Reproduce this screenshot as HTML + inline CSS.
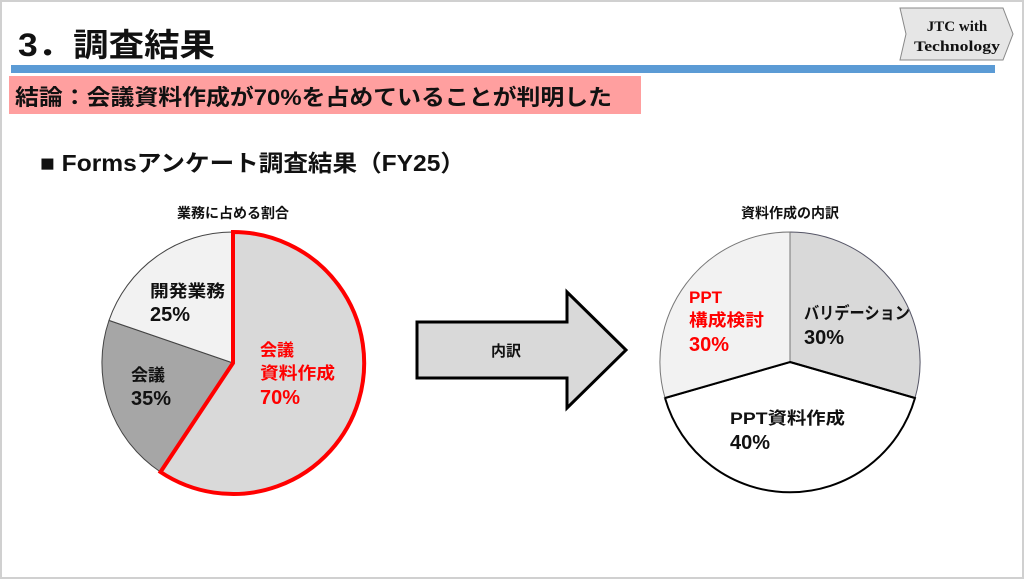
<!DOCTYPE html>
<html><head><meta charset="utf-8"><style>
html,body{margin:0;padding:0;background:#fff}
svg{display:block}
text{font-family:"Liberation Sans","Noto Sans CJK JP",sans-serif;font-weight:bold}
</style></head><body>
<svg width="1024" height="579" viewBox="0 0 1024 579" xmlns="http://www.w3.org/2000/svg">
<rect x="0.5" y="0.5" width="1023" height="578" fill="#fff" stroke="#d0d0d0" stroke-width="3"/>
<text x="18" y="56" font-size="32" fill="#111" textLength="197" lengthAdjust="spacingAndGlyphs">3．調査結果</text>
<polygon points="900,8 1003,8 1013,34 1003,60 900,60 906,34" fill="#e6e6e6" stroke="#888" stroke-width="1"/>
<text x="957" y="31" font-size="15" text-anchor="middle" style="font-family:'Liberation Serif',serif" fill="#111">JTC with</text>
<text x="957" y="51" font-size="15" text-anchor="middle" style="font-family:'Liberation Serif',serif" fill="#111" textLength="86" lengthAdjust="spacingAndGlyphs">Technology</text>
<rect x="11" y="65" width="984" height="8" fill="#5b9bd5"/>
<rect x="9" y="76" width="632" height="38" fill="#ff9f9f"/>
<text x="15" y="105" font-size="22" fill="#111" textLength="597" lengthAdjust="spacingAndGlyphs">結論：会議資料作成が70%を占めていることが判明した</text>
<text x="40" y="171" font-size="23" fill="#111" textLength="425" lengthAdjust="spacingAndGlyphs">■ Formsアンケート調査結果（FY25）</text>
<text x="233" y="218" font-size="14" text-anchor="middle" fill="#111">業務に占める割合</text>
<path d="M233,363 L160.5,472 A131,131 0 0 1 109,320.4 Z" fill="#a6a6a6" stroke="#444" stroke-width="1"/>
<path d="M233,363 L109,320.4 A131,131 0 0 1 233,232 Z" fill="#f2f2f2" stroke="#444" stroke-width="1"/>
<path d="M233,363 L233,232 A131,131 0 1 1 160.5,472 Z" fill="#d9d9d9" stroke="#ff0000" stroke-width="4" stroke-linejoin="miter"/>
<text x="150" y="297" font-size="17" fill="#111" textLength="75" lengthAdjust="spacingAndGlyphs">開発業務</text>
<text x="150" y="321" font-size="20" fill="#111">25%</text>
<text x="131" y="381" font-size="17" fill="#111">会議</text>
<text x="131" y="405" font-size="20" fill="#111">35%</text>
<text x="260" y="356" font-size="17" fill="#ff0000">会議</text>
<text x="260" y="379" font-size="17" fill="#ff0000" textLength="75" lengthAdjust="spacingAndGlyphs">資料作成</text>
<text x="260" y="404" font-size="20" fill="#ff0000">70%</text>
<polygon points="417,322 567,322 567,292 626,350 567,408 567,378 417,378" fill="#d9d9d9" stroke="#000" stroke-width="3"/>
<text x="506" y="356" font-size="15" text-anchor="middle" fill="#111">内訳</text>
<text x="790" y="218" font-size="14" text-anchor="middle" fill="#111">資料作成の内訳</text>
<path d="M790,362 L790,232 A130,130 0 0 1 915,398 Z" fill="#d9d9d9" stroke="#556" stroke-width="1"/>
<path d="M790,362 L915,398 A130,130 0 0 1 665,398 Z" fill="#fff" stroke="#000" stroke-width="2"/>
<path d="M790,362 L665,398 A130,130 0 0 1 790,232 Z" fill="#f2f2f2" stroke="#777" stroke-width="1"/>
<path d="M915,398 L790,362 L665,398" fill="none" stroke="#000" stroke-width="2"/>
<text x="689" y="303" font-size="17" fill="#ff0000">PPT</text>
<text x="689" y="326" font-size="17" fill="#ff0000" textLength="75" lengthAdjust="spacingAndGlyphs">構成検討</text>
<text x="689" y="351" font-size="20" fill="#ff0000">30%</text>
<text x="804" y="319" font-size="17" fill="#111" textLength="106" lengthAdjust="spacingAndGlyphs">バリデーション</text>
<text x="804" y="344" font-size="20" fill="#111">30%</text>
<text x="730" y="424" font-size="17" fill="#111" textLength="115" lengthAdjust="spacingAndGlyphs">PPT資料作成</text>
<text x="730" y="449" font-size="20" fill="#111">40%</text>
</svg>
</body></html>
